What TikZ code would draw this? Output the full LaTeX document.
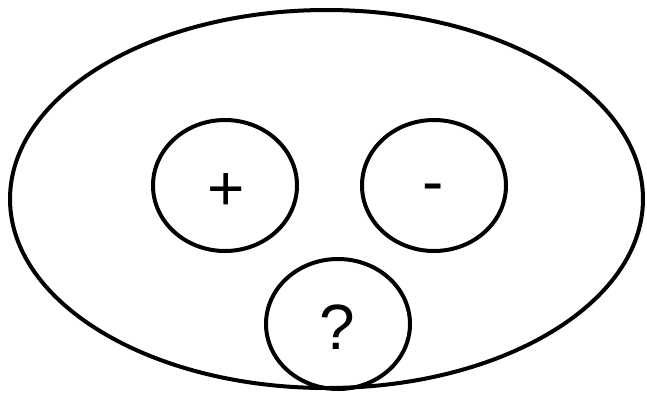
\documentclass[tikz,border=0pt]{standalone}
\usepackage{fontspec}
\setmainfont{Liberation Sans}
\usetikzlibrary{shapes.geometric}
\begin{document}
\begin{tikzpicture}[x=0.75pt,y=-0.75pt,
  shapeline/.style={draw=black, line width=3pt, ellipse, inner sep=0pt},
  smallcirc/.style={shapeline, minimum width=108pt, minimum height=98.25pt, font=\fontsize{48}{50}\selectfont}]
\useasboundingbox (0,0) rectangle (647,394);
\node[shapeline, minimum width=474.75pt, minimum height=283.5pt] (outer) at (326.5,199) {};
\node[smallcirc] (plus) at (225,185.5) {};
\node[smallcirc] (minus) at (434,185.5) {};
\node[smallcirc, minimum height=97.5pt] (quest) at (338,324) {};
\node[font=\fontsize{48}{50}\selectfont, inner sep=0pt] (plustext) at (226,192) {+};
\node[font=\fontsize{48}{50}\selectfont, inner sep=0pt] (minustext) at (433,193.5) {-};
\node[font=\fontsize{48}{50}\selectfont, inner sep=0pt] (questtext) at (337,327) {?};
\end{tikzpicture}
\end{document}
